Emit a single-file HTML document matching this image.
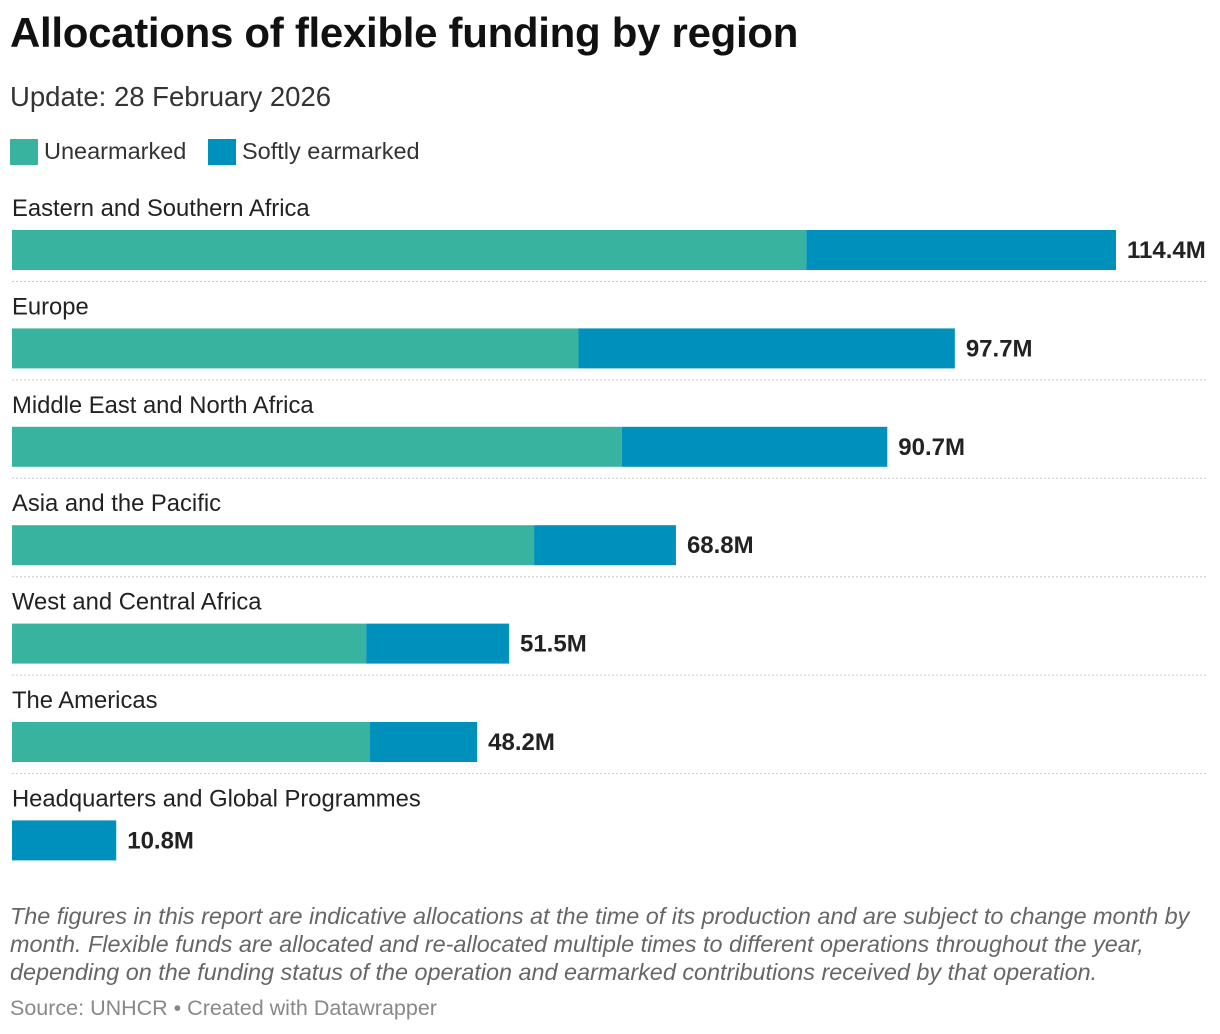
<!DOCTYPE html>
<html><head><meta charset="utf-8">
<style>
body{margin:0;background:#fff;font-family:"Liberation Sans",sans-serif;}
#wrap{position:relative;width:1220px;height:1034px;overflow:hidden}
.t{position:absolute;white-space:nowrap}
</style></head>
<body>
<div id="wrap">
<div class="t" style="left:10px;top:9px;font-size:42px;font-weight:bold;color:#111;letter-spacing:-0.3px">Allocations of flexible funding by region</div>
<div class="t" style="left:10px;top:81px;font-size:27.5px;color:#333">Update: 28 February 2026</div>
<div>
<div class="t" style="left:10px;top:139px;width:28px;height:26px;background:#38b3a0"></div>
<div class="t" style="left:44px;top:138px;font-size:23.5px;color:#333">Unearmarked</div>
<div class="t" style="left:208px;top:139px;width:28px;height:26px;background:#0090bc"></div>
<div class="t" style="left:242px;top:138px;font-size:23.5px;color:#333">Softly earmarked</div>
</div>
<svg id="chart" width="1220" height="880" style="position:absolute;left:0;top:0"></svg>
<div class="t" style="left:10px;top:902px;font-size:23.4px;font-style:italic;color:#666;line-height:28px;white-space:normal;width:1205px">The figures in this report are indicative allocations at the time of its production and are subject to change month by month. Flexible funds are allocated and re-allocated multiple times to different operations throughout the year, depending on the funding status of the operation and earmarked contributions received by that operation.</div>
<div class="t" style="left:10px;top:996px;font-size:21.5px;color:#888">Source: UNHCR • Created with Datawrapper</div>
</div>
<script>
const categories=["Eastern and Southern Africa","Europe","Middle East and North Africa","Asia and the Pacific","West and Central Africa","The Americas","Headquarters and Global Programmes"];
const unearmarked=[82.3,58.7,63.2,54.1,36.7,37.1,0];
const softly=[32.1,39.0,27.5,14.7,14.8,11.1,10.8];
const totalLabels=["114.4M","97.7M","90.7M","68.8M","51.5M","48.2M","10.8M"];
const svg=document.getElementById('chart');
const NS="http://www.w3.org/2000/svg";
const x0=12, pxPerM=1104/114.4;
const xs=v=>v*pxPerM;
const rowTop=i=>192+i*98.4;
function mk(tag,attrs){const e=document.createElementNS(NS,tag);for(const k in attrs)e.setAttribute(k,attrs[k]);svg.appendChild(e);return e;}
categories.forEach((c,i)=>{
  const y=rowTop(i);
  const lab=mk('text',{x:12,y:y+24,'font-size':23.8,fill:'#222','font-family':'Liberation Sans, sans-serif'});
  lab.textContent=c;
  
  
  const w1=xs(unearmarked[i]), w2=xs(softly[i]);
  if(w1>0){const r=mk('rect',{x:x0,y:y+38,width:w1,height:40,fill:'#38b3a0'});
  
  }
  const r2=mk('rect',{x:x0+w1,y:y+38,width:w2,height:40,fill:'#0090bc'});
  
  
  const v=mk('text',{x:x0+w1+w2+11,y:y+66,'font-size':24,'font-weight':'bold',fill:'#222','font-family':'Liberation Sans, sans-serif'});
  v.textContent=totalLabels[i];
  
  
  if(i<categories.length-1){const l=mk('line',{x1:12,x2:1208,y1:y+89.5,y2:y+89.5,stroke:'#ccc','stroke-width':1,'stroke-dasharray':'2,2'});
  
  }
});
</script>
</body></html>
